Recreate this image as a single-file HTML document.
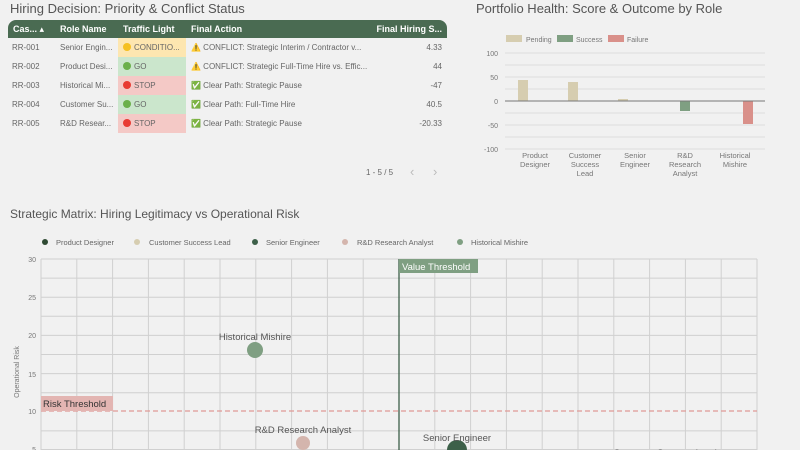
<!DOCTYPE html>
<html><head><meta charset="utf-8"><style>
body{margin:0;width:800px;height:450px;background:#f1f1f1;overflow:hidden;font-family:"Liberation Sans","DejaVu Sans",sans-serif;color:#444;position:relative}
.t{position:absolute;white-space:nowrap}
.title{font-size:13px;color:#555}
.row{position:absolute;left:8px;width:439px;height:19px;font-size:8px;color:#666}
.row span{position:absolute;top:5px;white-space:nowrap}
.tl{position:absolute;left:110px;width:68px;height:19px;top:0}
.dot{display:inline-block;width:8px;height:8px;border-radius:50%;vertical-align:-1px;margin-right:3px}
</style></head><body>
<div class="t title" style="left:10px;top:1px">Hiring Decision: Priority &amp; Conflict Status</div>
<div style="position:absolute;left:8px;top:20px;width:439px;height:18px;background:#4a6b52;border-radius:8px 8px 0 0;color:#fff;font-size:9px;font-weight:bold">
<span class="t" style="left:5px;top:4px">Cas... &#9652;</span>
<span class="t" style="left:52px;top:4px">Role Name</span>
<span class="t" style="left:115px;top:4px">Traffic Light</span>
<span class="t" style="left:183px;top:4px">Final Action</span>
<span class="t" style="right:5px;top:4px">Final Hiring S...</span>
</div>
<div class="row" style="top:38px"><span style="left:4px">RR-001</span><span style="left:52px">Senior Engin...</span><div class="tl" style="background:#fde6b0"></div><span style="left:115px"><i class="dot" style="background:#f5c021"></i>CONDITIO...</span><span style="left:183px">⚠️ CONFLICT: Strategic Interim / Contractor v...</span><span style="right:5px">4.33</span></div>
<div class="row" style="top:57px"><span style="left:4px">RR-002</span><span style="left:52px">Product Desi...</span><div class="tl" style="background:#cbe6cc"></div><span style="left:115px"><i class="dot" style="background:#6bb04a"></i>GO</span><span style="left:183px">⚠️ CONFLICT: Strategic Full-Time Hire vs. Effic...</span><span style="right:5px">44</span></div>
<div class="row" style="top:76px"><span style="left:4px">RR-003</span><span style="left:52px">Historical Mi...</span><div class="tl" style="background:#f4c9c6"></div><span style="left:115px"><i class="dot" style="background:#e83b33"></i>STOP</span><span style="left:183px">✅ Clear Path: Strategic Pause</span><span style="right:5px">-47</span></div>
<div class="row" style="top:95px"><span style="left:4px">RR-004</span><span style="left:52px">Customer Su...</span><div class="tl" style="background:#cbe6cc"></div><span style="left:115px"><i class="dot" style="background:#6bb04a"></i>GO</span><span style="left:183px">✅ Clear Path: Full-Time Hire</span><span style="right:5px">40.5</span></div>
<div class="row" style="top:114px"><span style="left:4px">RR-005</span><span style="left:52px">R&amp;D Resear...</span><div class="tl" style="background:#f4c9c6"></div><span style="left:115px"><i class="dot" style="background:#e83b33"></i>STOP</span><span style="left:183px">✅ Clear Path: Strategic Pause</span><span style="right:5px">-20.33</span></div>
<div class="t" style="left:366px;top:168px;font-size:8px;color:#666">1 - 5 / 5</div>
<div class="t" style="left:410px;top:164px;font-size:13px;color:#bbb">&#x2039;</div>
<div class="t" style="left:433px;top:164px;font-size:13px;color:#bbb">&#x203A;</div>

<div class="t title" style="left:476px;top:1px">Portfolio Health: Score &amp; Outcome by Role</div>
<svg style="position:absolute;left:0;top:0" width="800" height="450" font-family="Liberation Sans, sans-serif">
<g font-size="7" fill="#777">
<rect x="506" y="35" width="16" height="7" fill="#d6cdb0"/><text x="526" y="42">Pending</text>
<rect x="557" y="35" width="16" height="7" fill="#7f9f82"/><text x="576" y="42">Success</text>
<rect x="608" y="35" width="16" height="7" fill="#d9908a"/><text x="627" y="42">Failure</text>
</g>
<g stroke="#ddd" stroke-width="1">
<line x1="505" x2="765" y1="53" y2="53"/><line x1="505" x2="765" y1="65" y2="65"/><line x1="505" x2="765" y1="77" y2="77"/><line x1="505" x2="765" y1="89" y2="89"/><line x1="505" x2="765" y1="113" y2="113"/><line x1="505" x2="765" y1="125" y2="125"/><line x1="505" x2="765" y1="137" y2="137"/><line x1="505" x2="765" y1="149" y2="149"/>
</g>
<g font-size="7" fill="#777" text-anchor="end">
<text x="498" y="56">100</text><text x="498" y="80">50</text><text x="498" y="104">0</text><text x="498" y="128">-50</text><text x="498" y="152">-100</text>
</g>
<rect x="518" y="80" width="10" height="21" fill="#d6cdb0"/>
<rect x="568" y="82" width="10" height="19" fill="#d6cdb0"/>
<rect x="618" y="99" width="10" height="2" fill="#d6cdb0"/>
<rect x="680" y="101" width="10" height="10" fill="#7f9f82"/>
<rect x="743" y="101" width="10" height="23" fill="#d9908a"/>
<line x1="505" x2="765" y1="101" y2="101" stroke="#777"/>
<g font-size="7.5" fill="#777" text-anchor="middle">
<text x="535" y="158">Product</text><text x="535" y="167">Designer</text>
<text x="585" y="158">Customer</text><text x="585" y="167">Success</text><text x="585" y="176">Lead</text>
<text x="635" y="158">Senior</text><text x="635" y="167">Engineer</text>
<text x="685" y="158">R&amp;D</text><text x="685" y="167">Research</text><text x="685" y="176">Analyst</text>
<text x="735" y="158">Historical</text><text x="735" y="167">Mishire</text>
</g>

<text x="10" y="218" font-size="12" fill="#555">Strategic Matrix: Hiring Legitimacy vs Operational Risk</text>
<g font-size="7.5" fill="#666">
<circle cx="45" cy="242" r="3" fill="#2f4a33"/><text x="56" y="245">Product Designer</text>
<circle cx="137" cy="242" r="3" fill="#d6cdb0"/><text x="149" y="245">Customer Success Lead</text>
<circle cx="255" cy="242" r="3" fill="#3d6049"/><text x="266" y="245">Senior Engineer</text>
<circle cx="345" cy="242" r="3" fill="#d4b5ad"/><text x="357" y="245">R&amp;D Research Analyst</text>
<circle cx="460" cy="242" r="3" fill="#7f9f82"/><text x="471" y="245">Historical Mishire</text>
</g>
<g stroke="#d0d0d0" stroke-width="1">
<line x1="41" x2="41" y1="259" y2="450"/><line x1="76.8" x2="76.8" y1="259" y2="450"/><line x1="112.6" x2="112.6" y1="259" y2="450"/><line x1="148.4" x2="148.4" y1="259" y2="450"/><line x1="184.2" x2="184.2" y1="259" y2="450"/><line x1="220" x2="220" y1="259" y2="450"/><line x1="255.8" x2="255.8" y1="259" y2="450"/><line x1="291.6" x2="291.6" y1="259" y2="450"/><line x1="327.4" x2="327.4" y1="259" y2="450"/><line x1="363.2" x2="363.2" y1="259" y2="450"/><line x1="434.8" x2="434.8" y1="259" y2="450"/><line x1="470.6" x2="470.6" y1="259" y2="450"/><line x1="506.4" x2="506.4" y1="259" y2="450"/><line x1="542.2" x2="542.2" y1="259" y2="450"/><line x1="578" x2="578" y1="259" y2="450"/><line x1="613.8" x2="613.8" y1="259" y2="450"/><line x1="649.6" x2="649.6" y1="259" y2="450"/><line x1="685.4" x2="685.4" y1="259" y2="450"/><line x1="721.2" x2="721.2" y1="259" y2="450"/><line x1="757" x2="757" y1="259" y2="450"/>
<line x1="41" x2="757" y1="259" y2="259"/><line x1="41" x2="757" y1="278.1" y2="278.1"/><line x1="41" x2="757" y1="297.2" y2="297.2"/><line x1="41" x2="757" y1="316.3" y2="316.3"/><line x1="41" x2="757" y1="335.4" y2="335.4"/><line x1="41" x2="757" y1="354.5" y2="354.5"/><line x1="41" x2="757" y1="373.6" y2="373.6"/><line x1="41" x2="757" y1="392.7" y2="392.7"/><line x1="41" x2="757" y1="430.9" y2="430.9"/><line x1="41" x2="757" y1="449.5" y2="449.5"/>
</g>
<g font-size="7" fill="#777" text-anchor="end">
<text x="36" y="262">30</text><text x="36" y="300">25</text><text x="36" y="338">20</text><text x="36" y="377">15</text><text x="36" y="414">10</text><text x="36" y="452">5</text>
</g>
<text transform="translate(19,372) rotate(-90)" font-size="7" fill="#777" text-anchor="middle">Operational Risk</text>
<line x1="41" x2="757" y1="411" y2="411" stroke="#e09a96" stroke-dasharray="5,3" stroke-width="1.2"/>
<rect x="41" y="396" width="72" height="15" fill="#e3b5b2"/>
<text x="43" y="407" font-size="9.5" fill="#333">Risk Threshold</text>
<line x1="399" x2="399" y1="259" y2="450" stroke="#3d6049" stroke-width="1.3"/>
<rect x="399" y="259" width="79" height="14" fill="#7f9f82"/>
<text x="402" y="270" font-size="9.5" fill="#fff">Value Threshold</text>
<circle cx="255" cy="350" r="8" fill="#7f9f82"/>
<text x="255" y="340" font-size="9.5" fill="#555" text-anchor="middle">Historical Mishire</text>
<circle cx="303" cy="443" r="7" fill="#d4b5ad"/>
<text x="303" y="433" font-size="9.5" fill="#555" text-anchor="middle">R&amp;D Research Analyst</text>
<circle cx="457" cy="450" r="10" fill="#3d6049"/>
<text x="457" y="441" font-size="9.5" fill="#555" text-anchor="middle">Senior Engineer</text>
<text x="665" y="456" font-size="9.5" fill="#555" text-anchor="middle">Customer Success Lead</text>
</svg>
</body></html>
